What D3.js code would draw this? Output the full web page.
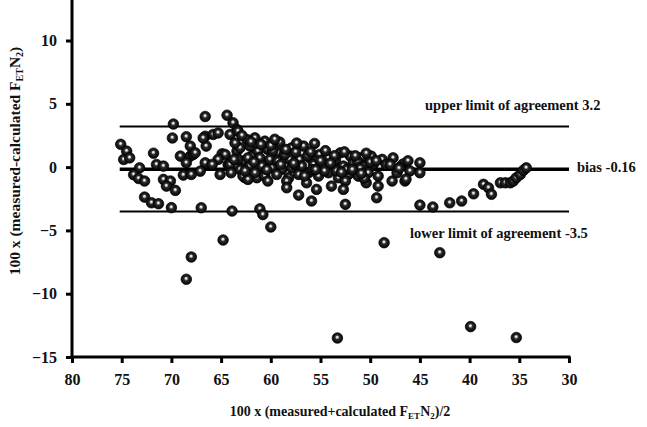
<!DOCTYPE html>
<html><head><meta charset="utf-8">
<script src="https://cdn.jsdelivr.net/npm/d3@7"></script>
<style>
html,body{margin:0;padding:0;background:#fff;}
svg{display:block;}
text{font-family:"Liberation Serif","Times New Roman",serif;font-weight:bold;fill:#111;}
</style></head>
<body>
<svg id="chart" width="647" height="427"></svg>
<script>
// x = mean of measured and calculated (x100), y = difference (x100)
const meanVals = [
75.1,74.5,74.8,74.2,71.8,69.8,69.9,68.5,69.1,68.1,71.5,70.8,73.2,73.8,73.3,72.7,70.8,70.1,70.5,69.6,68.8,68.0,72.7,72.0,71.3,70.0,
66.6,64.4,63.8,63.4,64.1,66.6,65.8,65.3,68.1,66.5,67.8,64.9,64.6,68.5,66.6,65.3,63.4,62.4,61.6,60.6,62.8,61.9,61.3,60.8,
67.1,65.9,65.1,64.3,63.1,62.1,60.8,59.9,62.6,61.4,67.0,63.9,61.1,60.8,60.0,64.8,68.0,68.5,66.8,67.6,
63.3,59.1,56.7,55.6,63.1,62.1,60.3,59.3,57.9,63.3,62.3,61.1,60.1,59.3,58.1,57.1,56.1,55.1,54.2,53.0,52.0,50.9,49.9,48.8,
64.1,62.1,60.9,58.9,57.9,56.9,55.7,54.7,53.7,52.7,51.7,50.7,49.7,
64.0,62.8,61.6,60.6,59.4,58.2,57.2,56.2,55.2,54.2,53.2,52.2,51.2,50.2,49.2,
62.3,60.3,58.4,56.4,53.9,52.5,50.4,49.2,58.4,55.4,52.7,
57.2,55.9,52.5,49.35,47.8,46.5,45.0,43.7,45.0,45.0,
42.0,40.8,39.6,38.6,38.1,37.8,36.9,36.4,35.9,35.6,35.3,34.9,34.6,34.3,
48.6,43.0,53.3,39.9,35.3,
47.7,46.7,46.0,47.3,46.4,
59.8,58.6,57.5,56.3,55.0,53.5,51.3,50.0,48.4,54.6,52.4,50.6,47.0,57.6,55.8,53.4,51.0,
63.6,62.9,62.0,61.0,60.0,59.6,58.5,57.4,56.0,54.5,53.6,52.6,51.5,50.4,49.4,
63.7,62.6,61.7,60.4,59.0,57.7,56.6,55.5,54.0,52.9,51.8,50.9,48.0,47.1,46.2
];
const diffVals = [
1.8,1.26,0.6,0.73,1.1,3.4,2.3,2.4,0.87,0.87,0.21,0.08,-0.06,-0.6,-0.9,-1.1,-0.97,-1.1,-1.5,-1.84,-0.63,-0.58,-2.37,-2.82,-2.89,-3.2,
4.0,4.1,3.5,2.97,2.58,2.44,2.58,2.7,1.66,1.66,1.0,1.05,1.0,0.34,0.34,0.61,1.26,2.18,2.31,2.05,0.47,0.87,1.26,0.34,
-0.32,0.21,-0.58,0.21,-0.18,-0.45,-0.58,-0.06,-0.84,-0.84,-3.21,-3.47,-3.3,-3.75,-4.73,-5.76,-7.1,-8.86,2.3,1.13,
2.84,1.97,1.66,1.87,1.52,1.66,1.4,1.13,1.52,0.61,0.73,0.73,0.61,0.47,0.61,0.61,0.73,1.0,0.73,1.13,0.87,0.73,0.87,0.61,
0.21,0.08,0.08,-0.18,-0.06,0.08,0.21,-0.06,0.21,0.08,0.34,0.08,0.21,
-0.45,-0.71,-0.45,-0.71,-0.58,-0.84,-0.58,-0.45,-0.71,-0.45,-0.84,-0.58,-0.71,-0.45,-0.71,
-0.97,-1.1,-1.1,-1.24,-1.5,-1.1,-1.24,-1.5,-1.63,-1.76,-1.76,
-2.21,-2.68,-2.94,-2.42,-1.1,-1.1,0.34,-3.15,-0.45,-3.0,
-2.82,-2.68,-2.11,-1.36,-1.63,-2.15,-1.24,-1.24,-1.24,-1.1,-0.84,-0.58,-0.26,-0.06,
-5.97,-6.76,-13.5,-12.6,-13.46,
0.73,0.24,-0.3,-0.45,-0.95,
1.3,1.0,1.2,0.9,0.5,0.6,0.5,0.4,0.2,-0.3,-0.2,-0.9,0.0,0.2,-0.2,-0.3,-0.1,
1.9,2.5,2.0,1.8,1.7,2.2,1.4,1.9,1.2,1.3,0.9,1.2,0.9,1.1,0.5,
0.6,-0.3,0.4,-0.2,0.2,0.3,-0.7,-0.2,0.3,-0.4,-0.2,-0.5,0.2,-0.1,0.5
];

const xTicks = [80,75,70,65,60,55,50,45,40,35,30];
const yTicks = [-15,-10,-5,0,5,10];

const limitNames = ["upper limit of agreement 3.2","bias -0.16","lower limit of agreement -3.5"];
const limitValues = [3.2,-0.16,-3.5];
const limitRange = [75.2,30];

const svg = d3.select("#chart");
const x = d3.scaleLinear().domain([80,30]).range([72,569]);
const y = d3.scaleLinear().domain([-15,13.2]).range([357,0]);

// gradient for spheres
const defs = svg.append("defs");
const g = defs.append("radialGradient").attr("id","ball")
  .attr("cx","50%").attr("cy","50%").attr("r","55%").attr("fx","48%").attr("fy","40%");
g.append("stop").attr("offset","0%").attr("stop-color","#ffffff");
g.append("stop").attr("offset","15%").attr("stop-color","#d8d8d8");
g.append("stop").attr("offset","38%").attr("stop-color","#2a2a2a");
g.append("stop").attr("offset","100%").attr("stop-color","#000000");

// limit lines
svg.append("g").selectAll("line").data(limitValues).join("line")
  .attr("x1",x(limitRange[0])).attr("x2",x(limitRange[1]))
  .attr("y1",d=>y(d)).attr("y2",d=>y(d))
  .attr("stroke","#000").attr("stroke-width",(d,i)=>i===1?3.5:2);

// points
const pts = meanVals.map((m,i)=>({m, d: diffVals[i]}));
svg.append("g").selectAll("circle").data(pts).join("circle")
  .attr("cx",p=>x(p.m)).attr("cy",p=>y(p.d)).attr("r",5.3)
  .attr("fill","url(#ball)").attr("stroke","#000").attr("stroke-width",0.7);

// axes
const xAxis = d3.axisBottom(x).tickValues(xTicks).tickSize(6).tickSizeOuter(0).tickPadding(11);
const yAxis = d3.axisLeft(y).tickValues(yTicks).tickSize(6).tickSizeOuter(0).tickPadding(9);

const gx = svg.append("g").attr("transform","translate(0,357)").call(xAxis);
const gy = svg.append("g").attr("transform","translate(72,0)").call(yAxis);
[gx,gy].forEach(a=>{
  a.select(".domain").attr("stroke","#000").attr("stroke-width",3);
  a.selectAll(".tick line").attr("stroke","#000").attr("stroke-width",3);
  a.selectAll(".tick text").attr("font-family","Liberation Serif").attr("font-weight","bold")
    .attr("font-size",16).attr("fill","#111");
});
gx.select(".domain").attr("d","M"+(72-1.5)+",0H"+(569+1.5));
gy.select(".domain").attr("d","M0,"+(357+1.5)+"V0");

// limit labels
const labelPos = [[425,110],[577,172],[410,238]];
svg.append("g").selectAll("text").data(limitNames).join("text")
  .attr("x",(d,i)=>labelPos[i][0]).attr("y",(d,i)=>labelPos[i][1])
  .attr("font-size",14.5).text(d=>d);

// axis titles
const xt = svg.append("text").attr("x",340).attr("y",416).attr("text-anchor","middle").attr("font-size",14);
xt.append("tspan").text("100 x (measured+calculated F");
xt.append("tspan").attr("font-size",9).attr("dy",3).text("ET");
xt.append("tspan").attr("dy",-3).text("N");
xt.append("tspan").attr("font-size",9).attr("dy",3).text("2");
xt.append("tspan").attr("dy",-3).text(")/2");

const yt = svg.append("text").attr("transform","translate(20,161) rotate(-90)").attr("text-anchor","middle").attr("font-size",15.5);
yt.append("tspan").text("100 x (measured-calculated F");
yt.append("tspan").attr("font-size",10).attr("dy",3).text("ET");
yt.append("tspan").attr("dy",-3).text("N");
yt.append("tspan").attr("font-size",10).attr("dy",3).text("2");
yt.append("tspan").attr("dy",-3).text(")");
</script>
</body></html>
